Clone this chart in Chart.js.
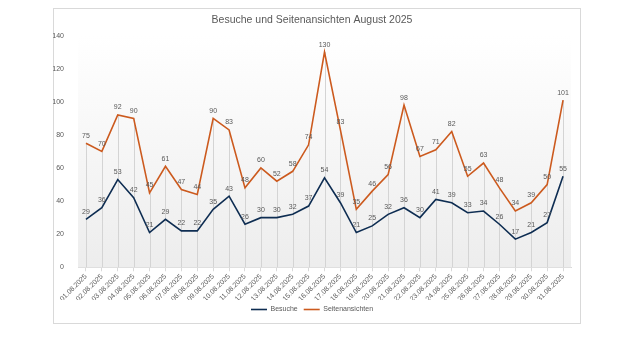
<!DOCTYPE html>
<html>
<head>
<meta charset="utf-8">
<script src="https://cdn.jsdelivr.net/npm/chart.js@4/dist/chart.umd.min.js"></script>
<style>
  html, body { margin: 0; padding: 0; background: #ffffff; width: 640px; height: 360px; overflow: hidden; }
  #card { position: absolute; left: 53px; top: 8px; width: 526px; height: 314px; border: 1px solid #d9d9d9; background: #fff; }
  #c { position: absolute; left: 53px; top: 8px; }
</style>
</head>
<body>
<div id="card"></div>
<canvas id="c" width="527" height="315"></canvas>
<script>
const categories = ["01.08.2025","02.08.2025","03.08.2025","04.08.2025","05.08.2025","06.08.2025","07.08.2025","08.08.2025","09.08.2025","10.08.2025","11.08.2025","12.08.2025","13.08.2025","14.08.2025","15.08.2025","16.08.2025","17.08.2025","18.08.2025","19.08.2025","20.08.2025","21.08.2025","22.08.2025","23.08.2025","24.08.2025","25.08.2025","26.08.2025","27.08.2025","28.08.2025","29.08.2025","30.08.2025","31.08.2025"];
const besuche = [29,36,53,42,21,29,22,22,35,43,26,30,30,32,37,54,39,21,25,32,36,30,41,39,33,34,26,17,21,27,55];
const seitenansichten = [75,70,92,90,45,61,47,44,90,83,48,60,52,58,74,130,83,35,46,56,98,67,71,82,55,63,48,34,39,50,101];
const yTicks = [0,20,40,60,80,100,120,140];

const FONT = "'Liberation Sans', Arial, sans-serif";
const GRAY = "#595959";

const bgPlugin = {
  id: 'bg',
  beforeDatasetsDraw(chart) {
    const {ctx, chartArea: a} = chart;
    ctx.save();
    const g = ctx.createLinearGradient(0, a.top, 0, a.bottom);
    g.addColorStop(0, '#ffffff');
    g.addColorStop(1, '#ededed');
    ctx.fillStyle = g;
    ctx.fillRect(a.left, a.top, a.right - a.left, a.bottom - a.top);
    const metas = chart.data.datasets.map((d, i) => chart.getDatasetMeta(i));
    ctx.strokeStyle = '#d4d4d4';
    ctx.lineWidth = 1;
    const n = chart.data.labels.length;
    for (let i = 0; i < n; i++) {
      let top = Infinity, x = null;
      metas.forEach(m => { const p = m.data[i]; if (p) { top = Math.min(top, p.y); x = p.x; } });
      if (x === null) continue;
      const xx = Math.round(x) + 0.5;
      ctx.beginPath();
      ctx.moveTo(xx, top);
      ctx.lineTo(xx, a.bottom);
      ctx.stroke();
    }
    ctx.restore();
  }
};

const labelPlugin = {
  id: 'vlabels',
  afterDatasetsDraw(chart) {
    const ctx = chart.ctx;
    ctx.save();
    ctx.font = "7px " + FONT;
    ctx.fillStyle = GRAY;
    ctx.textAlign = 'center';
    ctx.textBaseline = 'bottom';
    chart.data.datasets.forEach((ds, i) => {
      const m = chart.getDatasetMeta(i);
      m.data.forEach((p, j) => {
        ctx.fillText(String(ds.data[j]), p.x, p.y - 4);
      });
    });
    ctx.restore();
  }
};

new Chart(document.getElementById('c'), {
  type: 'line',
  data: {
    labels: categories,
    datasets: [
      { label: 'Besuche', data: besuche, borderColor: '#0e2d52', backgroundColor: '#0e2d52', borderWidth: 1.6, pointRadius: 0, tension: 0 },
      { label: 'Seitenansichten', data: seitenansichten, borderColor: '#cc5a1e', backgroundColor: '#cc5a1e', borderWidth: 1.6, pointRadius: 0, tension: 0 }
    ]
  },
  options: {
    responsive: false,
    animation: false,
    layout: { padding: { left: 0, right: 9, top: 0, bottom: 0 } },
    plugins: {
      title: { display: true, text: 'Besuche und Seitenansichten August 2025', color: GRAY, font: { family: FONT, size: 10.5, weight: 'normal' }, padding: { top: 6, bottom: 9 } },
      legend: { position: 'bottom', labels: { color: GRAY, font: { family: FONT, size: 7 }, usePointStyle: true, pointStyle: 'line', pointStyleWidth: 16, boxHeight: 7, padding: 6 } },
      tooltip: { enabled: false }
    },
    scales: {
      x: {
        offset: true,
        afterFit(s) { s.height = s.height - 4; },
        grid: { display: true, drawOnChartArea: false, drawTicks: true, tickLength: 4, color: '#d9d9d9' },
        border: { display: true, color: '#d9d9d9' },
        ticks: { color: GRAY, font: { family: FONT, size: 7 }, minRotation: 45, maxRotation: 45, autoSkip: false, padding: 1 }
      },
      y: {
        min: 0, max: 140,
        afterFit(s) { s.width = 25; },
        afterBuildTicks(s) { s.ticks = yTicks.map(v => ({ value: v })); },
        grid: { display: false },
        border: { display: false },
        ticks: { color: GRAY, font: { family: FONT, size: 7 }, padding: 6 }
      }
    }
  },
  plugins: [bgPlugin, labelPlugin]
});
</script>
</body>
</html>
